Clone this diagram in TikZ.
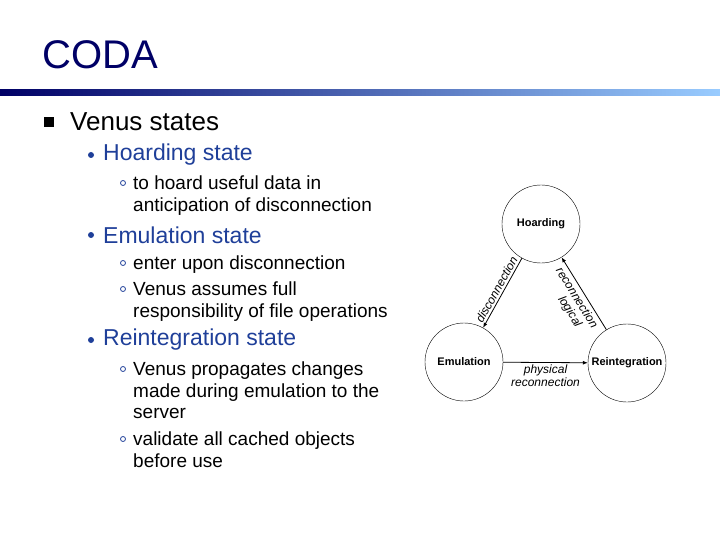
\documentclass[tikz,border=0pt]{standalone}
\usepackage{fontspec}
\setmainfont{Liberation Sans}
\usetikzlibrary{arrows.meta}
\definecolor{navy}{HTML}{000066}
\definecolor{lblue}{HTML}{99CCFF}
\definecolor{bl}{HTML}{1F3F99}
\begin{document}
\begin{tikzpicture}[x=1pt,y=-1pt,
  t1/.style={anchor=west,font=\fontsize{26}{28}\selectfont,inner sep=0},
  t2/.style={anchor=west,font=\fontsize{23}{24}\selectfont,text=bl,inner sep=0},
  t3/.style={anchor=north west,font=\fontsize{19}{21.5}\selectfont,align=left,inner sep=0},
  st/.style={circle,draw,minimum size=78,inner sep=0,font=\bfseries\fontsize{11}{13}\selectfont},
  lb/.style={font=\itshape\fontsize{12}{12.5}\selectfont,align=center,inner sep=2},
  ar/.style={-{Latex[length=5,width=4]},thick}]
\useasboundingbox (0,0) rectangle (720,540);
\node[anchor=west,inner sep=0,text=navy,font=\fontsize{40}{44}\selectfont] (title) at (42,55) {CODA};
\shade[left color=navy,right color=lblue] (0,90) rectangle (720,96);
\fill (44,117) rectangle (54,127);
\node[t1] (a) at (70,122) {Venus states};
\fill[bl] (91,155) circle (3);
\node[t2] (b1) at (103,155) {Hoarding state};
\draw[bl,line width=0.8] (123,183) circle (2.5);
\node[t3] (c1) at (133,176) {to hoard useful data in\\anticipation of disconnection};
\fill[bl] (91,235) circle (3);
\node[t2] (b2) at (103,235) {Emulation state};
\draw[bl,line width=0.8] (123,263) circle (2.5);
\node[t3] (c2) at (133,256) {enter upon disconnection};
\draw[bl,line width=0.8] (123,289) circle (2.5);
\node[t3] (c3) at (133,282) {Venus assumes full\\responsibility of file operations};
\fill[bl] (91,340) circle (3);
\node[t2] (b3) at (103,340) {Reintegration state};
\draw[bl,line width=0.8] (123,369) circle (2.5);
\node[t3] (c4) at (133,362) {Venus propagates changes\\made during emulation to the\\server};
\draw[bl,line width=0.8] (123,439) circle (2.5);
\node[t3] (c5) at (133,432) {validate all cached objects\\before use};
\node[st] (H) at (541,224) {Hoarding};
\node[st] (E) at (464,362) {Emulation};
\node[st] (R) at (627,363) {Reintegration};
\draw[ar] (H) -- node[lb,sloped,above] {disconnection} (E);
\draw[ar] (R) -- node[lb,sloped,below,yshift=-1] (rc) {reconnection}
  node[lb,sloped,below,yshift=-14,xshift=8] (lg) {logical} (H);
\draw[ar] (E) -- node[lb,below] {physical\\reconnection} (R);
\end{tikzpicture}
\end{document}
